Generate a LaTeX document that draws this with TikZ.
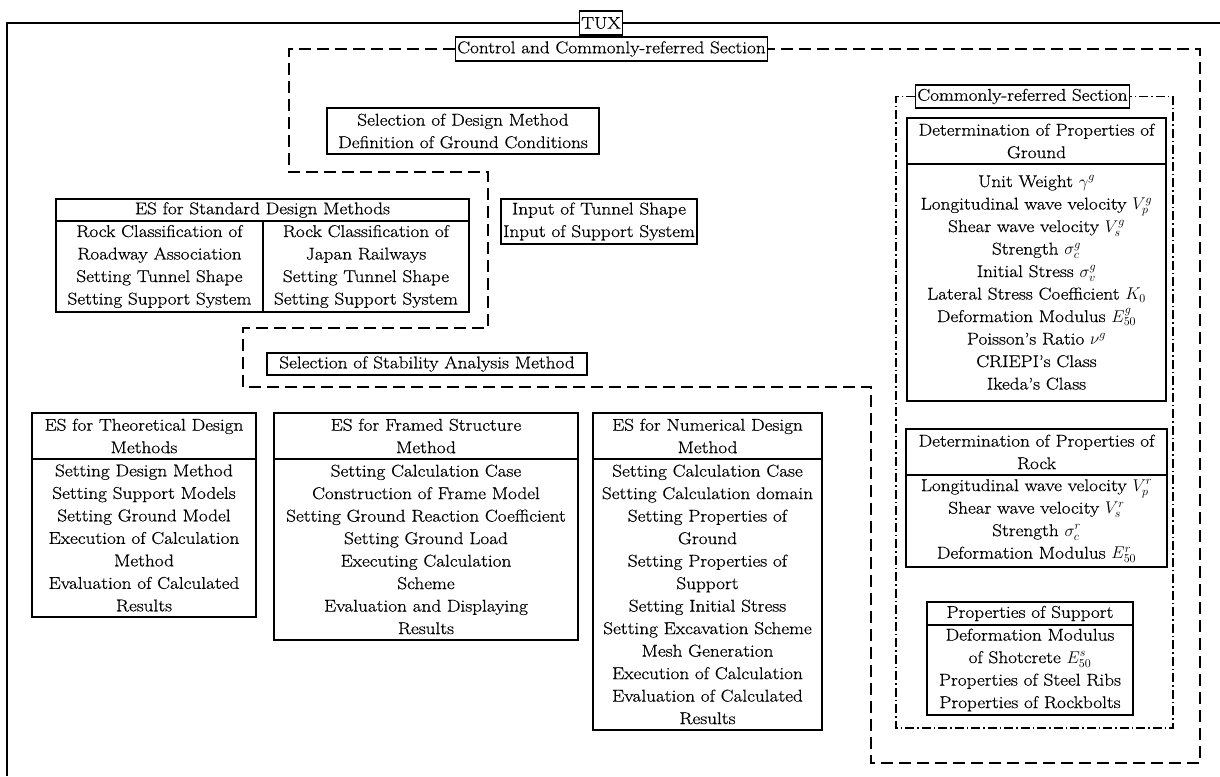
\RequirePackage{fix-cm}
\documentclass[tikz,border=0pt]{standalone}
\usepackage{fontspec}
\setmainfont{Latin Modern Roman}[FakeStretch=1.13, FakeBold=0.6]
\newcommand\dfont{\fontsize{17}{22.5}\selectfont}
\tikzset{
  box/.style={draw, line width=1.1pt, inner sep=1.5pt, align=center, font=\dfont},
  ctrldash/.style={line width=1.2pt, dash pattern=on 12pt off 6pt},
  commdash/.style={line width=1.1pt, dash pattern=on 9pt off 3pt on 1.5pt off 3pt},
  outerline/.style={line width=1.2pt},
}
\begin{document}
\begin{tikzpicture}[x=1pt,y=-1pt]
\useasboundingbox (0,0) rectangle (1220,776);

% outer frame
\node[box, minimum width=42, minimum height=24] (tux) at (601,23) {TUX};
\coordinate (otl) at (7,23);
\coordinate (otr) at (1220,23);
\coordinate (obl) at (7,776);
\draw[outerline] (tux.west) -- (otl) -- (obl);
\draw[outerline] (tux.east) -- (otr);

% control section
\node[box, minimum width=309, minimum height=24] (ctrl) at (611.5,49) {Control and Commonly-referred Section};
\coordinate (c1) at (289,49);
\coordinate (c2) at (289,172);
\coordinate (c3) at (488,172);
\coordinate (c4) at (488,328);
\coordinate (c5) at (243,328);
\coordinate (c6) at (243,387);
\coordinate (c7) at (871,387);
\coordinate (c8) at (871,763);
\coordinate (c9) at (1200,763);
\coordinate (c10) at (1200,49);
\draw[ctrldash] (ctrl.west) -- (c1) -- (c2) -- (c3) -- (c4) -- (c5) -- (c6) -- (c7) -- (c8) -- (c9) -- (c10) -- (ctrl.east);

\node[box, minimum width=272, minimum height=46] (dsel) at (463,131) {Selection of Design Method\\Definition of Ground Conditions};
\node[box, minimum width=196, minimum height=45] (inp) at (599,221.5) {Input of Tunnel Shape\\Input of Support System};
\node[box, minimum width=320, minimum height=22] (stab) at (427,364) {Selection of Stability Analysis Method};

% standard design
\node[box, minimum width=413, minimum height=22] (stdh) at (262.5,210) {ES for Standard Design Methods};
\node[box, minimum width=207, minimum height=91] (stdl) at (159.5,266.5) {Rock Classification of\\Roadway Association\\Setting Tunnel Shape\\Setting Support System};
\node[box, minimum width=206, minimum height=91] (stdr) at (366,266.5) {Rock Classification of\\Japan Railways\\Setting Tunnel Shape\\Setting Support System};

% theoretical
\node[box, minimum width=224, minimum height=46] (thh) at (144,436) {ES for Theoretical Design\\Methods};
\node[box, minimum width=224, minimum height=158] (thb) at (144,538) {Setting Design Method\\Setting Support Models\\Setting Ground Model\\Execution of Calculation\\Method\\Evaluation of Calculated\\Results};

% framed
\node[box, minimum width=304, minimum height=46] (frh) at (426,436) {ES for Framed Structure\\Method};
\node[box, minimum width=304, minimum height=181] (frb) at (426,549.5) {Setting Calculation Case\\Construction of Frame Model\\Setting Ground Reaction Coefficient\\Setting Ground Load\\Executing Calculation\\Scheme\\Evaluation and Displaying\\Results};

% numerical
\node[box, minimum width=229, minimum height=46] (nuh) at (707.5,436) {ES for Numerical Design\\Method};
\node[box, minimum width=229, minimum height=271] (nub) at (707.5,594.5) {Setting Calculation Case\\Setting Calculation domain\\Setting Properties of\\Ground\\Setting Properties of\\Support\\Setting Initial Stress\\Setting Excavation Scheme\\Mesh Generation\\Execution of Calculation\\Evaluation of Calculated\\Results};

% commonly-referred section
\node[box, minimum width=201, minimum height=23] (comm) at (1022.5,96.5) {Commonly-referred Section};
\coordinate (d1) at (896,96.5);
\coordinate (d2) at (896,728);
\coordinate (d3) at (1173,728);
\coordinate (d4) at (1173,96.5);
\draw[commdash] (comm.west) -- (d1) -- (d2) -- (d3) -- (d4) -- (comm.east);

\node[box, minimum width=259, minimum height=46] (grh) at (1036.5,141) {Determination of Properties of\\Ground};
\node[box, minimum width=259, minimum height=237] (grb) at (1036.5,282.5) {Unit Weight $\gamma^g$\\Longitudinal wave velocity $V_p^g$\\Shear wave velocity $V_s^g$\\Strength $\sigma_c^g$\\Initial Stress $\sigma_v^g$\\Lateral Stress Coefficient $K_0$\\Deformation Modulus $E_{50}^g$\\Poisson's Ratio $\nu^g$\\CRIEPI's Class\\Ikeda's Class};

\node[box, minimum width=261, minimum height=46] (rkh) at (1036.5,452) {Determination of Properties of\\Rock};
\node[box, minimum width=261, minimum height=92] (rkb) at (1036.5,521) {Longitudinal wave velocity $V_p^r$\\Shear wave velocity $V_s^r$\\Strength $\sigma_c^r$\\Deformation Modulus $E_{50}^r$};

\node[box, minimum width=206, minimum height=23] (suh) at (1030,613.5) {Properties of Support};
\node[box, minimum width=206, minimum height=90] (sub) at (1030,670) {Deformation Modulus\\of Shotcrete $E_{50}^s$\\Properties of Steel Ribs\\Properties of Rockbolts};
\end{tikzpicture}
\end{document}
